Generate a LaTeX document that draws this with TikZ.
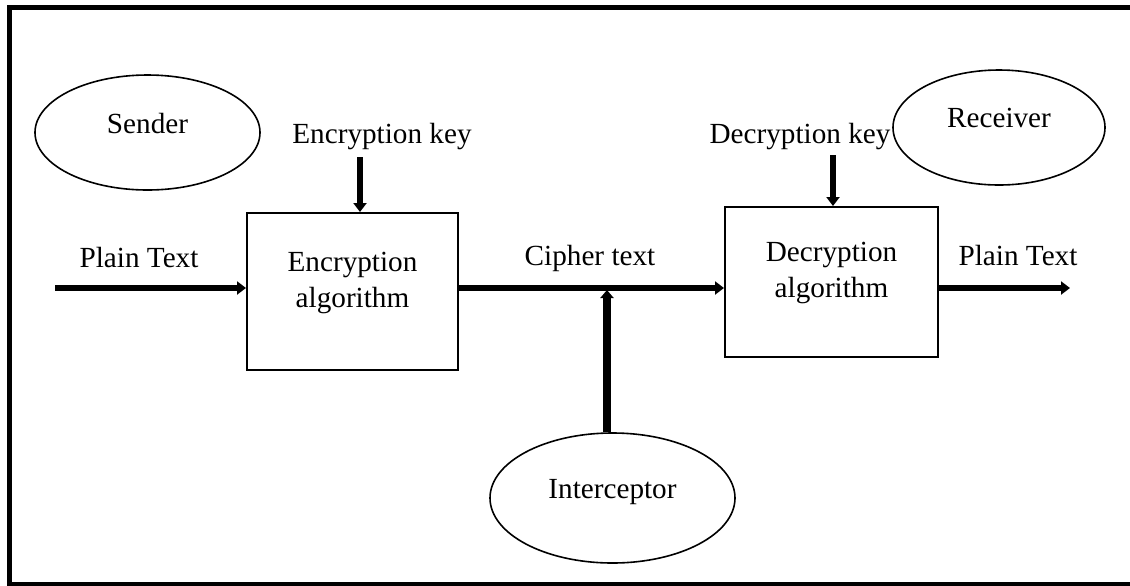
\documentclass[tikz,border=0pt]{standalone}
\usepackage{fontspec}
\setmainfont{Liberation Serif}
\usetikzlibrary{positioning,arrows.meta,shapes.geometric}

\begin{document}
\begin{tikzpicture}[x=0.5pt,y=-0.5pt,
    every node/.style={font=\fontsize{14.6}{18}\selectfont, inner sep=0pt},
    algobox/.style={draw, line width=1pt, minimum width=#1},
    party/.style={draw, ellipse, line width=0.8pt},
    flow/.style={line width=3pt, -{Triangle[length=4.5pt,width=6.5pt]}},
    tapflow/.style={line width=4pt, -{Triangle[length=4pt,width=6.5pt]}}]

    \useasboundingbox (0,0) rectangle (1130,585);
    \draw[line width=2.5pt] (1135,7.5) -- (9.5,7.5) -- (9.5,584) -- (1135,584);

    % the two parties and the eavesdropper
    \node[party, minimum width=112.5pt, minimum height=57.5pt, text depth=9.5pt] (sender) at (147.5,132.5) {Sender};
    \node[party, minimum width=106pt, minimum height=57.5pt, text depth=10pt] (receiver) at (999,127.5) {Receiver};
    \node[party, minimum width=122.5pt, minimum height=65pt, text depth=9.5pt] (intercept) at (612.5,498) {Interceptor};

    % algorithm boxes
    \node[algobox=105.5pt, minimum height=78.5pt] (encbox) at (352.5,291.5) {};
    \node[align=center] (enctext) at (352.5,283) {Encryption\\algorithm};
    \node[algobox=106.5pt, minimum height=75pt] (decbox) at (831.5,282) {};
    \node[align=center] (dectext) at (831.5,273) {Decryption\\algorithm};

    % labels
    \node[anchor=base] (plainleft) at (139,267) {Plain Text};
    \node[anchor=base] (enckey) at (382,143) {Encryption key};
    \node[anchor=base] (cipher) at (590,265) {Cipher text};
    \node[anchor=base] (deckey) at (800,143) {Decryption key};
    \node[anchor=base] (plainright) at (1018,265) {Plain Text};

    \coordinate (plainin) at (55,288);
    \coordinate (plainout) at (1070,288);
    \coordinate (enckeyin) at (360,157);
    \coordinate (deckeyin) at (833,155);
    \coordinate (tap) at (607,290);

    \draw[flow] (plainin) -- (plainin -| encbox.west);
    \draw[flow] (enckeyin) -- (enckeyin |- encbox.north);
    \draw[flow] (encbox.east |- plainin) -- (decbox.west |- plainin);
    \draw[flow] (deckeyin) -- (deckeyin |- decbox.north);
    \draw[flow] (decbox.east |- plainout) -- (plainout);
    \draw[tapflow] (tap |- intercept.north) -- (tap);

\end{tikzpicture}
\end{document}
